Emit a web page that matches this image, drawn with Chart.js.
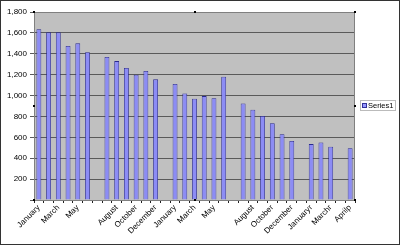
<!DOCTYPE html>
<html>
<head>
<meta charset="utf-8">
<script src="https://cdn.jsdelivr.net/npm/chart.js@4"></script>
<style>
  html, body { margin: 0; padding: 0; background: #fff; }
  #wrap { width: 400px; height: 245px; position: relative; }
</style>
</head>
<body>
<div id="wrap"><canvas id="chart"></canvas></div>
<script>
// Categories (blank entries are spacer columns)
const months = [
  "January", "February", "March", "April", "May", "June", "",
  "July", "August", "September", "October", "November", "December", "",
  "January", "February", "March", "April", "May", "June", "",
  "July", "August", "September", "October", "November", "December", "",
  "Januaryr", "Februaryr", "Marchr", "", "Aprilp"
];

// Series values
const series1 = [
  1635, 1605, 1605, 1475, 1500, 1415, null,
  1370, 1330, 1265, 1200, 1235, 1155, null,
  1110, 1020, 970, 995, 975, 1180, null,
  925, 865, 805, 735, 630, 565, null,
  535, 550, 510, null, 495
];

const yTicks = [0, 200, 400, 600, 800, 1000, 1200, 1400, 1600, 1800];

const fontFamily = "'Liberation Sans', Arial, sans-serif";

// Grey plot area, outer border, selection handles and legend
const excelLook = {
  id: "excelLook",
  beforeDraw(chart) {
    const { ctx, chartArea: a } = chart;
    ctx.save();
    ctx.fillStyle = "#fff";
    ctx.fillRect(0, 0, chart.width, chart.height);
    ctx.strokeStyle = "#333";
    ctx.lineWidth = 1;
    ctx.strokeRect(0.5, 0.5, chart.width - 1, chart.height - 1);
    ctx.fillStyle = "#c0c0c0";
    ctx.fillRect(a.left, a.top, a.right - a.left, a.bottom - a.top);
    ctx.restore();
  },
  afterDraw(chart) {
    const { ctx, chartArea: a } = chart;
    ctx.save();
    ctx.strokeStyle = "#808080";
    ctx.strokeRect(a.left + 0.5, a.top + 0.5, a.right - a.left - 1, a.bottom - a.top);
    // selection handles
    ctx.fillStyle = "#000";
    const mx = (a.left + a.right) / 2, my = (a.top + a.bottom) / 2;
    [[a.left, a.top], [mx, a.top], [a.right, a.top], [a.left, my],
     [a.right, my], [a.left, a.bottom], [mx, a.bottom], [a.right, a.bottom]]
      .forEach(([x, y]) => ctx.fillRect(Math.round(x) - 1, Math.round(y) - 1, 2, 2));
    // legend
    ctx.strokeStyle = "#bbb";
    ctx.strokeRect(360.5, 100.5, 35, 10);
    ctx.fillStyle = "#9999ff";
    ctx.fillRect(362, 103, 4, 4);
    ctx.strokeStyle = "#333399";
    ctx.strokeRect(362.5, 103.5, 4, 4);
    ctx.fillStyle = "#000";
    ctx.font = "7.5px " + fontFamily;
    ctx.textBaseline = "middle";
    ctx.fillText(chart.data.datasets[0].label, 368, 106);
    ctx.restore();
  }
};

new Chart(document.getElementById("chart"), {
  type: "bar",
  data: {
    labels: months,
    datasets: [{
      label: "Series1",
      data: series1,
      backgroundColor: "#8c8cf5",
      borderColor: "#2a2a90",
      borderWidth: 0.8,
      categoryPercentage: 1,
      barPercentage: 0.5
    }]
  },
  options: {
    responsive: true,
    maintainAspectRatio: false,
    animation: false,
    layout: { padding: { top: 12, right: 45, left: 0, bottom: 0 } },
    plugins: {
      legend: { display: false },
      tooltip: { enabled: false }
    },
    scales: {
      x: {
        offset: true,
        afterFit: (s) => { s.height = 45; },
        grid: {
          offset: true,
          drawOnChartArea: false,
          tickLength: 3,
          color: "#222"
        },
        border: { display: false },
        ticks: {
          autoSkip: false,
          minRotation: 45,
          maxRotation: 45,
          padding: 0,
          color: "#000",
          font: { family: fontFamily, size: 8 },
          callback: function (value, index) {
            return index % 2 === 0 ? this.getLabelForValue(value) : "";
          }
        }
      },
      y: {
        min: yTicks[0],
        max: yTicks[yTicks.length - 1],
        afterFit: (s) => { s.width = 34; },
        afterBuildTicks: (s) => { s.ticks = yTicks.map((v) => ({ value: v })); },
        grid: { color: "#5a5a5a", tickLength: 4, lineWidth: 1 },
        border: { color: "#333" },
        ticks: {
          padding: 3,
          color: "#000",
          font: { family: fontFamily, size: 8 },
          callback: (v) => (v === 0 ? "" : v.toLocaleString("en-US"))
        }
      }
    }
  },
  plugins: [excelLook]
});
</script>
</body>
</html>
